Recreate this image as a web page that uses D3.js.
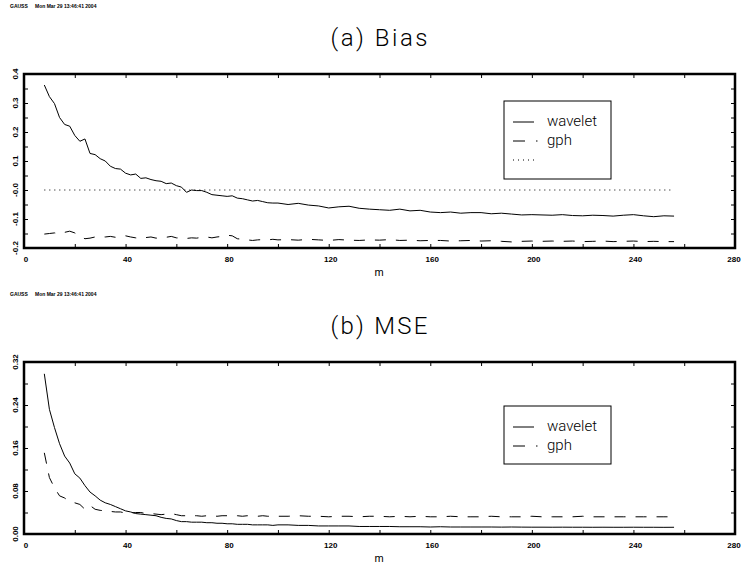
<!DOCTYPE html>
<html lang="en">
  <head>
    <meta charset="UTF-8"/>
    <title>Bias and MSE: wavelet vs gph</title>
    <script src="https://cdn.jsdelivr.net/npm/d3@7"></script>
    <style>
      body { margin:0; background:#fff; }
      text { font-family: "Liberation Sans", Arial, sans-serif; fill:#000; }
      .tick-lab { font-size:8px; font-weight:bold; }
      .title { font-family: Roboto, "Liberation Sans", sans-serif; font-weight:300; font-size:24px; }
      .leg { font-family: Roboto, "Liberation Sans", sans-serif; font-weight:300; font-size:15px; }
      .stamp { font-size:5px; font-weight:bold; }
    </style>
  </head>
  <body>
    <script>
    // bandwidth m (step 2 up to 100, then step 4)
    var mVals = [8,10,12,14,16,18,20,22,24,26,28,30,32,34,36,38,40,42,44,46,48,50,52,54,56,58,60,
      62,64,66,68,70,72,74,76,78,80,82,84,86,88,90,92,94,96,98,100,
      104,108,112,116,120,124,128,132,136,140,144,148,152,156,160,164,168,172,176,180,184,188,
      192,196,200,204,208,212,216,220,224,228,232,236,240,244,248,252,256];

    var biasWavelet = [0.362,0.322,0.298,0.250,0.226,0.220,0.188,0.168,0.176,0.126,0.122,0.108,0.100,0.082,0.074,0.072,0.058,0.052,0.055,0.040,
      0.042,0.036,0.032,0.030,0.022,0.024,0.015,0.010,-0.008,0.000,-0.002,-0.002,-0.008,-0.016,-0.018,-0.020,-0.022,-0.020,-0.028,-0.030,
      -0.034,-0.038,-0.036,-0.040,-0.044,-0.045,-0.045,
      -0.050,-0.046,-0.052,-0.055,-0.062,-0.058,-0.056,-0.063,-0.066,-0.068,-0.070,-0.066,-0.072,-0.070,-0.076,-0.078,-0.076,-0.080,
      -0.078,-0.078,-0.082,-0.080,-0.083,-0.086,-0.085,-0.086,-0.087,-0.085,-0.088,-0.089,-0.087,-0.088,-0.090,-0.087,-0.085,-0.089,
      -0.092,-0.089,-0.090];

    var biasGph = [-0.152,-0.150,-0.148,-0.152,-0.146,-0.142,-0.148,-0.160,-0.168,-0.166,-0.162,-0.161,-0.162,-0.160,-0.163,-0.160,-0.158,-0.162,-0.165,-0.168,
      -0.164,-0.162,-0.166,-0.165,-0.163,-0.160,-0.165,-0.166,-0.167,-0.165,-0.166,-0.163,-0.162,-0.165,-0.162,-0.160,-0.156,-0.158,-0.168,-0.170,
      -0.172,-0.174,-0.172,-0.171,-0.172,-0.170,-0.172,
      -0.171,-0.173,-0.170,-0.172,-0.174,-0.171,-0.173,-0.174,-0.172,-0.173,-0.171,-0.174,-0.173,-0.175,-0.174,-0.174,-0.176,-0.175,
      -0.174,-0.176,-0.175,-0.177,-0.179,-0.177,-0.176,-0.177,-0.176,-0.177,-0.176,-0.178,-0.177,-0.176,-0.178,-0.177,-0.176,-0.178,
      -0.177,-0.178,-0.178];

    var mseWavelet = [0.298,0.232,0.198,0.168,0.145,0.132,0.112,0.104,0.090,0.078,0.071,0.063,0.058,0.055,0.051,0.047,0.043,0.041,0.038,0.037,
      0.036,0.035,0.034,0.031,0.029,0.028,0.025,0.023,0.023,0.022,0.022,0.022,0.021,0.021,0.020,0.020,0.019,0.019,0.018,0.018,
      0.018,0.017,0.017,0.017,0.017,0.016,0.017,
      0.017,0.016,0.016,0.015,0.015,0.015,0.015,0.014,0.014,0.014,0.014,0.0135,0.0135,0.0135,0.013,0.0135,0.013,0.013,
      0.013,0.013,0.013,0.0128,0.013,0.0128,0.0127,0.0127,0.0126,0.0127,0.0126,0.0126,0.0125,0.0126,0.0125,0.0125,0.0126,0.0125,
      0.0125,0.0124,0.0125];

    var mseGph = [0.151,0.105,0.086,0.071,0.067,0.060,0.058,0.055,0.046,0.053,0.046,0.044,0.043,0.042,0.041,0.041,0.039,0.039,0.040,0.040,
      0.038,0.038,0.037,0.036,0.037,0.038,0.036,0.034,0.034,0.034,0.034,0.033,0.034,0.034,0.033,0.034,0.034,0.033,0.034,0.033,
      0.034,0.033,0.033,0.034,0.033,0.033,0.033,
      0.033,0.034,0.033,0.033,0.032,0.033,0.033,0.032,0.033,0.033,0.032,0.033,0.032,0.033,0.032,0.032,0.033,0.032,
      0.032,0.032,0.033,0.032,0.032,0.032,0.033,0.032,0.032,0.032,0.032,0.033,0.032,0.032,0.032,0.032,0.032,0.032,
      0.032,0.032,0.032];

    var xTicks = [0,20,40,60,80,100,120,140,160,180,200,220,240,260,280];
    var xLabels = [0,40,80,120,160,200,240,280];
    var biasTicks = [-0.2,-0.15,-0.1,-0.05,0,0.05,0.1,0.15,0.2,0.25,0.3,0.35,0.4];
    var biasLabels = [-0.2,-0.1,0,0.1,0.2,0.3,0.4];
    var biasLabelText = ["-0.2","-0.1","-0.0","0.1","0.2","0.3","0.4"];
    var mseTicks = [0,0.04,0.08,0.12,0.16,0.2,0.24,0.28,0.32];
    var mseLabels = [0,0.08,0.16,0.24,0.32];
    var mseLabelText = ["0.00","0.08","0.16","0.24","0.32"];
    var stampText = ["GAUSS", "Mon Mar 29 13:46:41 2004"];

    var W = 741, H = 569;
    var svg = d3.select('body').append('svg')
        .attr('width', W).attr('height', H);
    svg.append('rect').attr('width', W).attr('height', H).attr('fill', '#fff');

    var x = d3.scaleLinear().domain([0,280]).range([24,735]);

    function panel(cfg) {
      var y = d3.scaleLinear().domain(cfg.domain).range([cfg.bottom, cfg.top]);
      var g = svg.append('g');

      // time stamp
      g.append('text').attr('class','stamp').attr('x',10).attr('y',cfg.top-66).text(stampText[0]);
      g.append('text').attr('class','stamp').attr('x',35).attr('y',cfg.top-66).text(stampText[1]);

      g.append('text').attr('class','title')
        .attr('x', 379).attr('y', cfg.top-28)
        .attr('text-anchor','middle')
        .attr('textLength', 97).attr('lengthAdjust','spacing')
        .text(cfg.title);

      // inward ticks on all four sides
      var tk = function(sel) {
        sel.select('.domain').remove();
        sel.selectAll('.tick line').attr('stroke','#000').attr('stroke-width',1);
      };
      g.append('g').attr('transform','translate(0,'+cfg.bottom+')')
        .call(d3.axisBottom(x).tickValues(xTicks).tickSize(-4).tickFormat('')).call(tk);
      g.append('g').attr('transform','translate(0,'+cfg.top+')')
        .call(d3.axisTop(x).tickValues(xTicks).tickSize(-4).tickFormat('')).call(tk);
      g.append('g').attr('transform','translate(24,0)')
        .call(d3.axisLeft(y).tickValues(cfg.ticks).tickSize(-4).tickFormat('')).call(tk);
      g.append('g').attr('transform','translate(735,0)')
        .call(d3.axisRight(y).tickValues(cfg.ticks).tickSize(-4).tickFormat('')).call(tk);

      g.append('rect')
        .attr('x', 24).attr('y', cfg.top)
        .attr('width', 711).attr('height', cfg.bottom-cfg.top)
        .attr('fill','none').attr('stroke','#000').attr('stroke-width',2.5);

      // last label sits against the right edge, keep it inside the page
      g.selectAll('.xl').data(xLabels).enter().append('text')
        .attr('class','tick-lab')
        .attr('x', function(d){ return d === 280 ? x(d)-1 : x(d)+2; })
        .attr('y', cfg.bottom+14)
        .attr('text-anchor','middle')
        .text(function(d){ return d; });

      g.selectAll('.yl').data(cfg.labels).enter().append('text')
        .attr('class','tick-lab')
        .attr('text-anchor','middle')
        .attr('transform', function(d){ return 'translate(18,'+y(d)+') rotate(-90)'; })
        .text(function(d,i){ return cfg.labelText[i]; });

      g.append('text').attr('x', 379).attr('y', cfg.bottom+28)
        .attr('text-anchor','middle').style('font-size','11px').text('m');

      var line = d3.line().x(function(d){ return x(d[0]); }).y(function(d){ return y(d[1]); });

      if (cfg.zero) {
        g.append('path')
          .attr('d', line([[mVals[0],0],[mVals[mVals.length-1],0]]))
          .attr('fill','none').attr('stroke','#000').attr('stroke-width',1)
          .attr('stroke-dasharray','1,4');
      }
      g.append('path')
        .attr('d', line(d3.zip(mVals, cfg.gph)))
        .attr('fill','none').attr('stroke','#000').attr('stroke-width',1)
        .attr('stroke-dasharray','11,10');
      g.append('path')
        .attr('d', line(d3.zip(mVals, cfg.wav)))
        .attr('fill','none').attr('stroke','#000').attr('stroke-width',1);

      // legend
      var L = cfg.legend;
      g.append('rect').attr('x',504).attr('y',L.y).attr('width',107).attr('height',L.h)
        .attr('fill','#fff').attr('stroke','#000').attr('stroke-width',1);
      g.append('line').attr('x1',513).attr('x2',534).attr('y1',L.y+21).attr('y2',L.y+21)
        .attr('stroke','#000');
      g.append('text').attr('class','leg').attr('x',547).attr('y',L.y+25).text('wavelet');
      g.append('line').attr('x1',513).attr('x2',538).attr('y1',L.y+40).attr('y2',L.y+40)
        .attr('stroke','#000').attr('stroke-dasharray','12,11,1.5,20');
      g.append('text').attr('class','leg').attr('x',547).attr('y',L.y+44).text('gph');
      if (cfg.zero) {
        g.append('line').attr('x1',513).attr('x2',538).attr('y1',L.y+59).attr('y2',L.y+59)
          .attr('stroke','#000').attr('stroke-dasharray','1,4');
      }
    }

    panel({ top:74, bottom:248, domain:[-0.2,0.4], ticks:biasTicks, labels:biasLabels,
            labelText:biasLabelText, title:'(a)  Bias', wav:biasWavelet, gph:biasGph, zero:true,
            legend:{y:101, h:78} });
    panel({ top:362, bottom:534, domain:[0,0.32], ticks:mseTicks, labels:mseLabels,
            labelText:mseLabelText, title:'(b)  MSE', wav:mseWavelet, gph:mseGph, zero:false,
            legend:{y:406, h:58} });
    </script>
  </body>
</html>
